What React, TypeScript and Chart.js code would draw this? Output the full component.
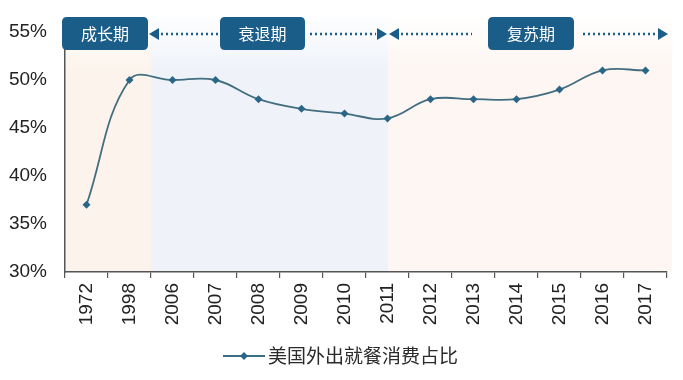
import React, { useEffect, useRef } from "react";
import { Chart, registerables } from "chart.js";

Chart.register(...registerables);

const categories = ["1972", "1998", "2006", "2007", "2008", "2009", "2010", "2011", "2012", "2013", "2014", "2015", "2016", "2017"];
const shareValues = [37, 50, 50, 50, 48, 47, 46.5, 46, 48, 48, 48, 49, 51, 51];
const seriesName = "美国外出就餐消费占比";
const phaseLabels = ["成长期", "衰退期", "复苏期"];
const yTicks = [30, 35, 40, 45, 50, 55];

const BOX = "#1a5d89";
const CJK = '"Noto Sans CJK SC", "Noto Sans", sans-serif';

function roundRect(ctx: CanvasRenderingContext2D, x: number, y: number, w: number, h: number, r: number) {
  ctx.beginPath();
  ctx.moveTo(x + r, y);
  ctx.lineTo(x + w - r, y);
  ctx.quadraticCurveTo(x + w, y, x + w, y + r);
  ctx.lineTo(x + w, y + h - r);
  ctx.quadraticCurveTo(x + w, y + h, x + w - r, y + h);
  ctx.lineTo(x + r, y + h);
  ctx.quadraticCurveTo(x, y + h, x, y + h - r);
  ctx.lineTo(x, y + r);
  ctx.quadraticCurveTo(x, y, x + r, y);
  ctx.closePath();
}

function dots(ctx: CanvasRenderingContext2D, x1: number, x2: number, y: number) {
  ctx.save();
  ctx.strokeStyle = BOX;
  ctx.lineWidth = 2.5;
  ctx.setLineDash([2, 3]);
  ctx.beginPath();
  ctx.moveTo(x1, y);
  ctx.lineTo(x2, y);
  ctx.stroke();
  ctx.restore();
}

function arrowHead(ctx: CanvasRenderingContext2D, tipX: number, y: number, dir: number) {
  ctx.save();
  ctx.fillStyle = BOX;
  ctx.beginPath();
  ctx.moveTo(tipX, y);
  ctx.lineTo(tipX - dir * 10, y - 6);
  ctx.lineTo(tipX - dir * 10, y + 6);
  ctx.closePath();
  ctx.fill();
  ctx.restore();
}

const bgPlugin = {
  id: "phaseBg",
  beforeDraw(chart: any) {
    const { ctx, chartArea, scales } = chart;
    const xs = scales.x;
    const b1 = xs.getPixelForValue(1.5);
    const b2 = xs.getPixelForValue(7) + 1;
    const top = 12;
    const bottom = chartArea.bottom;
    const right = chartArea.right + 5;
    const regions: [number, number, string][] = [
      [chartArea.left, b1, "252,244,236"],
      [b1, b2, "239,243,249"],
      [b2, right, "253,246,242"],
    ];
    ctx.save();
    for (const [a, b, c] of regions) {
      const g = ctx.createLinearGradient(0, top, 0, 70);
      g.addColorStop(0, `rgba(${c},0)`);
      g.addColorStop(1, `rgba(${c},1)`);
      ctx.fillStyle = g;
      ctx.fillRect(a, top, b - a, bottom - top);
    }
    ctx.restore();
  },
  afterDraw(chart: any) {
    const { ctx } = chart;
    const y = 34;
    const boxes: [number, number, string][] = [
      [62, 148, phaseLabels[0]],
      [220, 305, phaseLabels[1]],
      [488, 574, phaseLabels[2]],
    ];
    ctx.save();
    for (const [a, b, t] of boxes) {
      ctx.fillStyle = BOX;
      roundRect(ctx, a, 17, b - a, 33, 5);
      ctx.fill();
      ctx.fillStyle = "#ffffff";
      ctx.font = `16px ${CJK}`;
      ctx.textAlign = "center";
      ctx.textBaseline = "middle";
      ctx.fillText(t, (a + b) / 2, 34);
    }
    ctx.restore();
    arrowHead(ctx, 149, y, -1);
    dots(ctx, 161, 218, y);
    dots(ctx, 310, 376, y);
    arrowHead(ctx, 387, y, 1);
    arrowHead(ctx, 389, y, -1);
    dots(ctx, 401, 472, y);
    dots(ctx, 583, 657, y);
    arrowHead(ctx, 668, y, 1);
    const ly = 356;
    ctx.save();
    ctx.strokeStyle = "#3c6d86";
    ctx.lineWidth = 2;
    ctx.beginPath();
    ctx.moveTo(223, ly);
    ctx.lineTo(265, ly);
    ctx.stroke();
    ctx.fillStyle = "#2a6688";
    ctx.beginPath();
    ctx.moveTo(244, ly - 4);
    ctx.lineTo(248, ly);
    ctx.lineTo(244, ly + 4);
    ctx.lineTo(240, ly);
    ctx.closePath();
    ctx.fill();
    ctx.fillStyle = "#2b2b2b";
    ctx.font = `19px ${CJK}`;
    ctx.textAlign = "left";
    ctx.textBaseline = "middle";
    ctx.fillText(seriesName, 268, ly);
    ctx.restore();
  },
};

export default function App() {
  const ref = useRef<HTMLCanvasElement | null>(null);
  useEffect(() => {
    document.body.style.margin = "0";
    const canvas = ref.current;
    if (!canvas) return;
    const chart = new Chart(canvas, {
      type: "line",
      data: {
        labels: categories,
        datasets: [
          {
            label: seriesName,
            data: shareValues,
            borderColor: "#436e80",
            borderWidth: 1.8,
            tension: 0.4,
            pointStyle: "rectRot",
            pointRadius: 4,
            pointBackgroundColor: "#2a6688",
            pointBorderColor: "#2a6688",
            pointBorderWidth: 0,
            fill: false,
          },
        ],
      },
      options: {
        responsive: false,
        animation: false,
        layout: { padding: { top: 32, right: 16, left: 0, bottom: 0 } },
        plugins: { legend: { display: false }, tooltip: { enabled: false } },
        scales: {
          x: {
            type: "category",
            offset: true,
            grid: { offset: true, drawOnChartArea: false, tickLength: 6, color: "#555", lineWidth: 1.2 },
            border: { color: "#555", width: 1.5 },
            ticks: {
              minRotation: 90,
              maxRotation: 90,
              autoSkip: false,
              padding: 5,
              color: "#222",
              font: { family: '"Liberation Sans", Arial, sans-serif', size: 19 },
            },
            afterFit(scale: any) {
              scale.height = 108;
            },
          },
          y: {
            min: 30,
            max: 55,
            afterBuildTicks(scale: any) {
              scale.ticks = yTicks.map((v) => ({ value: v }));
            },
            grid: { display: true, drawOnChartArea: false, drawTicks: false },
            border: { color: "#555", width: 1.5 },
            ticks: {
              padding: 18,
              color: "#222",
              font: { family: '"Liberation Sans", Arial, sans-serif', size: 19 },
              callback: (v: any) => `${v}%`,
            },
            afterFit(scale: any) {
              scale.width = 65;
            },
          },
        },
      },
      plugins: [bgPlugin],
    });
    return () => chart.destroy();
  }, []);
  return (
    <div style={{ width: 683, height: 380 }}>
      <canvas ref={ref} width={683} height={380} />
    </div>
  );
}
